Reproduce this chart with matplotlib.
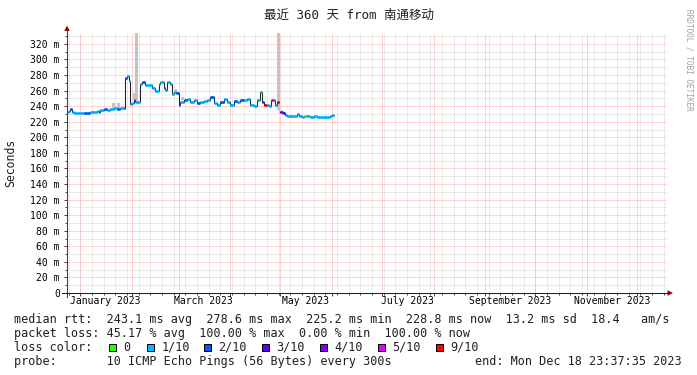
import datetime as dt
import matplotlib
matplotlib.use("Agg")
import matplotlib.pyplot as plt
import matplotlib.dates as mdates
from matplotlib.patches import Rectangle, Polygon
from matplotlib.lines import Line2D

# ---------------- data ----------------
title = "最近 360 天 from 南通移动"
ylabel = "Seconds"
credit = "RRDTOOL / TOBI OETIKER"

end_time = dt.datetime(2023, 12, 18, 23, 37, 35)
start_time = end_time - dt.timedelta(days=360)
data_base = dt.datetime(2022, 12, 24)

day_offsets = [0, 1, 2, 3, 4, 6, 8, 10, 12, 14, 16, 18, 19, 20, 22, 24, 26, 28, 30, 32, 34,
               35, 36, 37, 38, 39, 40, 41, 42, 43, 44, 45, 47, 49, 51, 53, 55, 56, 58, 59,
               60, 61.5, 63, 64, 65.5, 67, 68, 70, 72, 74, 76, 78, 80, 82, 84, 86, 88, 90,
               92, 94, 96, 98, 100, 102, 104, 106, 108, 110, 112, 114, 116, 117, 118.2, 120,
               121, 122.2, 124, 125, 126, 127, 128, 129.4, 130.5, 132, 134, 136, 137.8,
               139.4, 141, 142, 143.5, 145, 146, 148, 150, 152, 154, 156, 158, 159, 160]
rtt_ms = [233, 234, 236, 232, 231, 231.5, 231, 231.5, 231.5, 232, 232.5, 234, 233, 235, 236,
          235.5, 237, 238, 237, 237.5, 238,
          276, 279, 272, 243, 244, 248, 246, 245, 246, 268, 271.5, 267, 267, 263, 259, 268,
          271, 263, 261, 271, 268, 256, 258.5, 257, 242, 246, 247.5, 249, 246, 247.5, 244,
          246, 247, 247.5, 251.5, 244, 241, 246, 249, 246, 242, 247, 246, 248.5, 247.5, 249,
          242, 240, 247.5, 258.5, 246, 242, 242, 240, 247.5, 247.5, 242, 246, None,
          233, 231, 229, 227.5, 227.5, 227.5, 229.6, 226.8, 226.5, 226.8, 226.8, 226.8,
          226.5, 227, 226.5, 226.5, 225.6, 226.5, 228, 229, None]
loss_idx = [1, 1, 2, 1, 1, 1, 1, 2, 2, 1, 1, 1, 2, 1, 2, 1, 1, 1, 2, 1, 2,
            2, 1, 1, 1, 1, 4, 1, 1, 1, 1, 2, 1, 1, 1, 1, 1, 1, 2, 1,
            1, 1, 1, 1, 2, 2, 1, 2, 1, 1, 1, 2, 1, 1, 1, 2, 1, 1,
            2, 1, 1, 1, 2, 1, 2, 1, 1, 1, 1, 1, 1, 2, 6, 1,
            1, 5, 1, 1, 6, 0,
            4, 3, 1, 1, 1, 1, 1, 1, 1, 0, 1, 0, 1, 1, 1, 1, 1, 1, 1, 1, 0]

loss_labels = ["0", "1/10", "2/10", "3/10", "4/10", "5/10", "9/10"]
loss_colors = ["#26ff00", "#00b8ff", "#0059ff", "#5e00ff", "#7e00ff", "#dd00ff", "#ff0000"]

smoke_days = [27.8, 30.8, 40.6, 41.4, 65.2, 69.4, 126.6, 128.2, 130.0]
smoke_lo = [238, 237, 248, 246, 255, 248, 235, 231, 229]
smoke_hi = [244, 244, 257, 400, 262, 252, 400, 235, 233]

y_major = list(range(20, 321, 20))
y_minor = list(range(10, 331, 20))
y_tick_vals = list(range(0, 321, 20))
y_tick_labels = ["0"] + [f"{v} m" for v in range(20, 321, 20)]

month_labels = ["January 2023", "March 2023", "May 2023", "July 2023",
                "September 2023", "November 2023"]
month_label_dates = [dt.datetime(2023, m, 16) for m in (1, 3, 5, 7, 9, 11)]

stat_lines = [
    "median rtt:  243.1 ms avg  278.6 ms max  225.2 ms min  228.8 ms now  13.2 ms sd  18.4   am/s",
    "packet loss: 45.17 % avg  100.00 % max  0.00 % min  100.00 % now",
    "loss color:",
    "probe:       10 ICMP Echo Pings (56 Bytes) every 300s",
]
end_text = "end: Mon Dec 18 23:37:35 2023"

# ---------------- layout ----------------
W, H, DPI = 697, 375, 100
MONO = ["DejaVu Sans Mono", "Noto Sans CJK SC"]
X0, X1, Y0, Y1 = 67, 667, 293, 33


def fx(p):
    return p / W


def fy(p):
    return 1 - p / H


fig = plt.figure(figsize=(W / DPI, H / DPI), dpi=DPI)
fig.patch.set_facecolor("white")
ax = fig.add_axes([fx(X0), fy(Y0), (X1 - X0) / W, (Y0 - Y1) / H])
ax.set_facecolor("white")
ax.set_xlim(start_time, end_time)
ax.set_ylim(0, 334)
for s in ax.spines.values():
    s.set_visible(False)

# grid (1px dotted lines)
minor_c, major_c = "#d6d6d6", "#ffa8a8"
gkw = dict(lw=0.72, linestyle=(0, (1, 1)), zorder=0.5, dash_capstyle="butt")
for v in y_minor:
    ax.axhline(v, color=minor_c, **gkw)
wk = mdates.WeekdayLocator(byweekday=mdates.SU)
mo = mdates.MonthLocator()
week_dates = [mdates.num2date(d).replace(tzinfo=None) for d in wk.tick_values(start_time, end_time)]
month_dates = [mdates.num2date(d).replace(tzinfo=None) for d in mo.tick_values(start_time, end_time)]
week_dates = [d for d in week_dates if start_time < d < end_time]
month_dates = [d for d in month_dates if start_time < d < end_time]
for d in week_dates:
    ax.axvline(d, color=minor_c, **gkw)
for v in y_major:
    ax.axhline(v, color=major_c, **gkw)
for d in month_dates:
    ax.axvline(d, color=major_c, **gkw)

# smoke
sd = [data_base + dt.timedelta(days=d) for d in smoke_days]
ax.bar(sd, [h - l for h, l in zip(smoke_hi, smoke_lo)], bottom=smoke_lo,
       width=1.8, color="#c4c4c4", zorder=1, linewidth=0)

# median step line
dates = [data_base + dt.timedelta(days=d) for d in day_offsets]
xs, ys = [], []
for i in range(len(dates) - 1):
    v = rtt_ms[i]
    v = float("nan") if v is None else v
    xs += [dates[i], dates[i + 1]]
    ys += [v, v]
ax.plot(xs, ys, color="#202020", lw=0.75, zorder=2, solid_joinstyle="miter")

# colored loss segments
for i in range(len(dates) - 1):
    if rtt_ms[i] is None:
        continue
    ax.hlines(rtt_ms[i], dates[i], dates[i + 1], colors=loss_colors[loss_idx[i]],
              lw=2.0, zorder=3)

# ticks
ax.set_yticks(y_tick_vals)
ax.set_yticklabels(y_tick_labels, family=MONO, fontsize=7)
ax.set_yticks(y_minor, minor=True)
ax.tick_params(axis="y", which="major", length=2.2, width=0.7, color="#404040",
               direction="out", pad=3)
ax.tick_params(axis="y", which="minor", length=1.4, width=0.7, color="#404040",
               direction="out")
ax.set_xticks(month_dates)
ax.set_xticklabels([])
ax.set_xticks(week_dates, minor=True)
ax.tick_params(axis="x", which="major", length=2.2, width=0.7, color="#404040",
               direction="out")
ax.tick_params(axis="x", which="minor", length=1.4, width=0.7, color="#404040",
               direction="out")
for d, lab in zip(month_label_dates, month_labels):
    ax.text(d, -(304 - Y0) / (Y0 - Y1), lab, transform=ax.get_xaxis_transform(),
            ha="center", va="baseline", family=MONO, fontsize=7)

# axis lines and arrows
fig.add_artist(Line2D([fx(X0), fx(X0)], [fy(297), fy(30)], color="#404040", lw=0.75))
fig.add_artist(Line2D([fx(62), fx(668)], [fy(Y0), fy(Y0)], color="#202020", lw=0.75))
fig.add_artist(Polygon([(fx(64.3), fy(31)), (fx(69.7), fy(31)), (fx(67), fy(25.5))],
                       closed=True, color="#8b0000", lw=0))
fig.add_artist(Polygon([(fx(667.5), fy(290.3)), (fx(667.5), fy(295.7)), (fx(673), fy(293))],
                       closed=True, color="#8b0000", lw=0))

# texts
fig.text(fx(348.5), fy(19.3), title, ha="center", va="baseline", family=MONO,
         fontsize=9, color="#202020")
fig.text(fx(10.5), fy(163), ylabel, rotation=90, ha="center", va="center",
         family=MONO, fontsize=8.3, color="#202020")
fig.text(fx(689), fy(60), credit, rotation=270, ha="center", va="center",
         family=MONO, fontsize=5.6, color="#a0a0a0")

baselines = [323.3, 337.3, 351, 365]
for line, b in zip(stat_lines, baselines):
    fig.text(fx(14.5), fy(b), line, ha="left", va="baseline", family=MONO,
             fontsize=8.5, color="#202020")
fig.text(fx(682), fy(baselines[3]), end_text, ha="right", va="baseline",
         family=MONO, fontsize=8.5, color="#202020")

square_x = [109, 147, 204, 262, 319.5, 378, 436]
for sx, lab, col in zip(square_x, loss_labels, loss_colors):
    fig.add_artist(Rectangle((fx(sx), fy(350.5)), 7 / W, 7 / H, facecolor=col,
                             edgecolor="#000000", lw=0.7))
    fig.text(fx(sx + 14.5), fy(baselines[2]), lab, ha="left", va="baseline",
             family=MONO, fontsize=8.5, color="#202020")

fig.savefig("out.png", dpi=DPI, facecolor="white")
